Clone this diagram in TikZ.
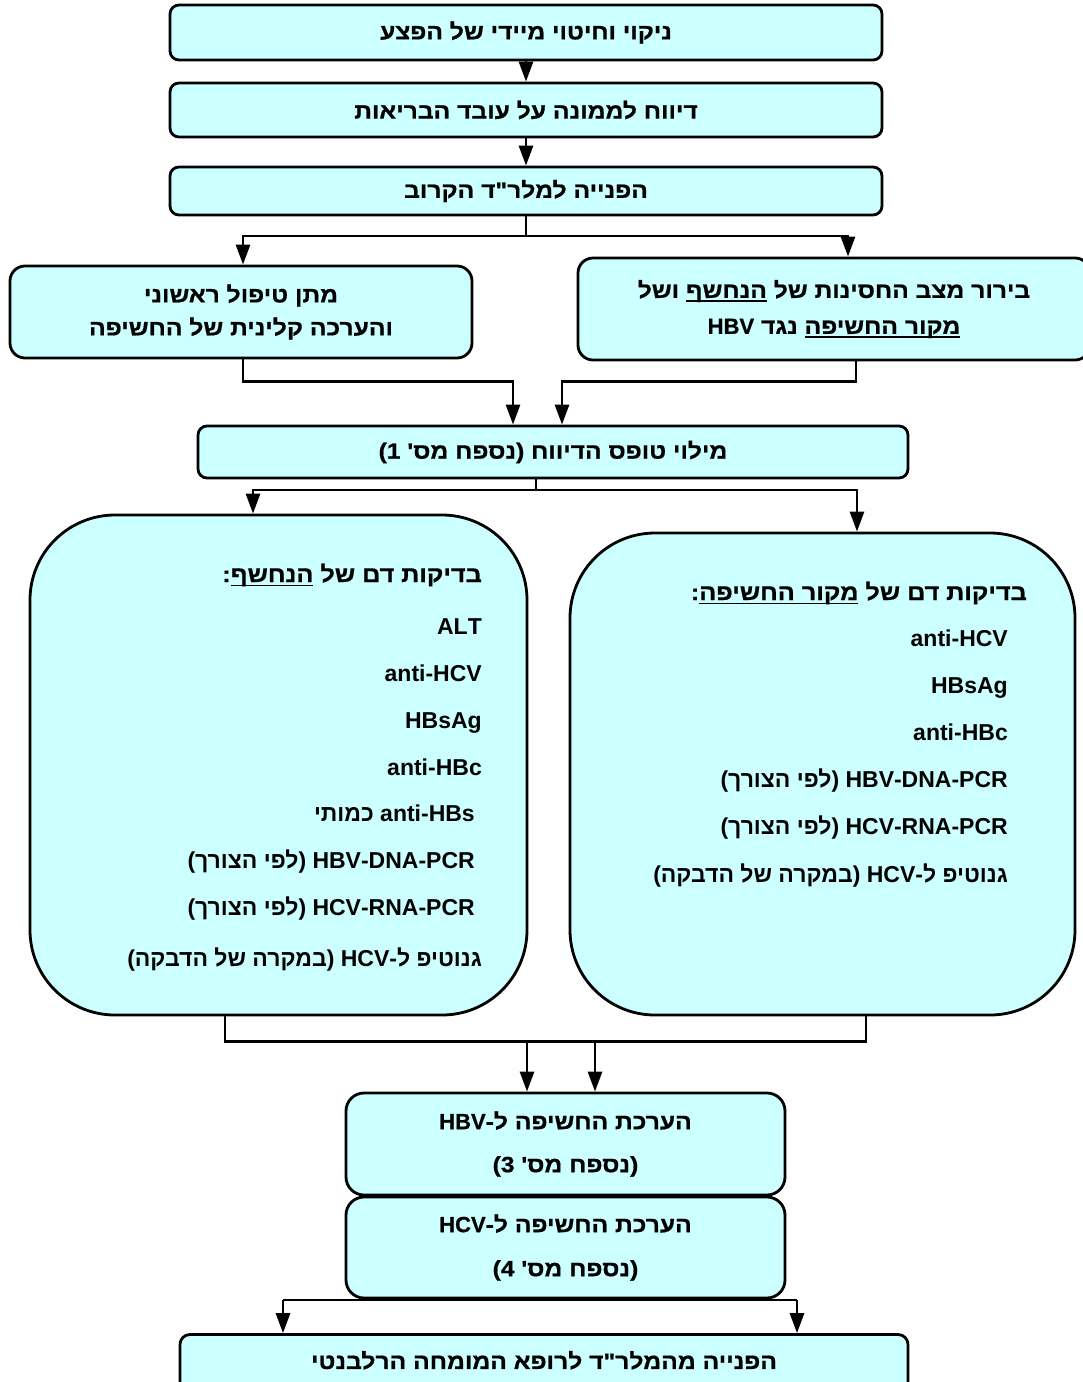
\documentclass[tikz,border=0pt]{standalone}
\usepackage{fontspec}
\usetikzlibrary{arrows.meta}
\TeXXeTstate=1
\newfontfamily\heb[Script=Hebrew]{Liberation Sans}
\newfontfamily\hebw[Script=Hebrew,FakeStretch=1.12,FakeBold=0.8]{Liberation Sans}
\newfontfamily\latb[FakeBold=0.8]{Liberation Sans}
\definecolor{boxfill}{RGB}{204,255,255}
\newcommand\myul[1]{\setbox0=\hbox{#1}\dp0=0pt\vtop{\copy0\kern2.5pt\hrule height1.6pt}}
\newcommand\lat[1]{\beginL{\latb\bfseries\fontsize{22}{22}\selectfont #1}\endL}
\begin{document}
\begin{tikzpicture}[x=1pt,y=-1pt,
  flowbox/.style={draw=black, line width=2.8pt, fill=boxfill, rounded corners=#1, inner sep=0pt, align=center,
    font=\hebw\bfseries\fontsize{22}{24}\selectfont},
  flowbox/.default=9pt,
  twoline/.style={font=\hebw\bfseries\fontsize{22}{#1}\selectfont},
  item/.style={anchor=base east, inner sep=0pt, font=\heb\bfseries\fontsize{23}{28}\selectfont},
  title/.style={item, font=\hebw\bfseries\fontsize{22.5}{28}\selectfont},
  ln/.style={line width=2.8pt},
  arr/.style={line width=2.8pt, -{Triangle[length=20pt,width=14pt]}}]
\useasboundingbox (0,0) rectangle (1083,1382);
\clip (0,0) rectangle (1083,1382);
\fill[white] (0,0) rectangle (1083,1382);

% boxes
\node[flowbox, minimum width=712pt, minimum height=55pt] (b1) at (526,32.5) {\beginR ניקוי וחיטוי מיידי של הפצע\endR};
\node[flowbox, minimum width=712pt, minimum height=54pt] (b2) at (526,110) {\beginR דיווח לממונה על עובד הבריאות\endR};
\node[flowbox, minimum width=712pt, minimum height=48pt] (b3) at (526,191) {\beginR הפנייה למלר"ד הקרוב\endR};
\node[flowbox=15pt, twoline=33pt, minimum width=462pt, minimum height=92pt] (A) at (241,312)
  {\beginR מתן טיפול ראשוני\endR\\\beginR והערכה קלינית של החשיפה\endR};
\node[flowbox=15pt, twoline=36pt, minimum width=512pt, minimum height=102pt] (B) at (834,309)
  {\beginR בירור מצב החסינות של \myul{הנחשף} ושל\endR\\\beginR\myul{\beginR מקור החשיפה\endR} נגד \lat{HBV}\endR};
\node[flowbox, minimum width=710pt, minimum height=52pt] (C) at (553,452) {\beginR מילוי טופס הדיווח (נספח מס' 1)\endR};
\node[flowbox=85pt, minimum width=497pt, minimum height=500pt] (D) at (278.5,765) {};
\node[flowbox=85pt, minimum width=505pt, minimum height=482pt] (E) at (822.5,774) {};
\node[flowbox=18pt, twoline=43pt, minimum width=439pt, minimum height=102pt] (F) at (565.5,1144)
  {\beginR הערכת החשיפה ל-\lat{HBV}\endR\\\beginR(נספח מס' 3)\endR};
\node[flowbox=18pt, twoline=44pt, minimum width=439pt, minimum height=101pt] (G) at (565.5,1247.5)
  {\beginR הערכת החשיפה ל-\lat{HCV}\endR\\\beginR(נספח מס' 4)\endR};
\node[flowbox=10pt, minimum width=728pt, minimum height=65pt, text depth=14pt] (H) at (544,1367)
  {\beginR הפנייה מהמלר"ד לרופא המומחה הרלבנטי\endR};

% text of D
\node[title] (d0) at (482,582) {\beginR בדיקות דם של \myul{הנחשף}:\endR};
\node[item] (d1) at (482,634) {ALT};
\node[item] (d2) at (482,681.5) {anti-HCV};
\node[item] (d3) at (482,728) {HBsAg};
\node[item] (d4) at (482,775) {anti-HBc};
\node[item] (d5) at (475,821.5) {\beginR\beginL anti-HBs\endL{} כמותי\endR};
\node[item] (d6) at (475,868) {\beginR\beginL HBV-DNA-PCR\endL{} (לפי הצורך)\endR};
\node[item] (d7) at (475,915) {\beginR\beginL HCV-RNA-PCR\endL{} (לפי הצורך)\endR};
\node[item] (d8) at (482,966.5) {\beginR גנוטיפ ל-\beginL HCV\endL{} (במקרה של הדבקה)\endR};

% text of E
\node[title] (e0) at (1027,600) {\beginR בדיקות דם של \myul{\beginR מקור החשיפה\endR}:\endR};
\node[item] (e1) at (1008,646.5) {anti-HCV};
\node[item] (e2) at (1008,693.5) {HBsAg};
\node[item] (e3) at (1008,740) {anti-HBc};
\node[item] (e4) at (1008,787) {\beginR\beginL HBV-DNA-PCR\endL{} (לפי הצורך)\endR};
\node[item] (e5) at (1008,834) {\beginR\beginL HCV-RNA-PCR\endL{} (לפי הצורך)\endR};
\node[item] (e6) at (1008,882) {\beginR גנוטיפ ל-\beginL HCV\endL{} (במקרה של הדבקה)\endR};

% connectors
\draw[arr] (b1) -- (b2);
\draw[arr] (b2) -- (b3);
\coordinate (s1) at (526,236);
\draw[ln] (b3.south) -- (s1);
\draw[arr] (s1) -| ([xshift=2pt]A.north);
\draw[arr] (s1) -| ([xshift=14pt]B.north);
\draw[arr] ([xshift=2pt]A.south) -- ++(0,22) -| ([xshift=-40pt]C.north);
\draw[arr] ([xshift=22pt]B.south) -- ++(0,20) -| ([xshift=9pt]C.north);
\coordinate (s2) at (536,490);
\draw[ln] ([xshift=-17pt]C.south) -- (s2);
\draw[arr] (s2) -| ([xshift=-25.5pt]D.north);
\draw[arr] (s2) -| ([xshift=34.5pt]E.north);
\draw[ln] ([xshift=-53.5pt]D.south) -- ++(0,25) -| ([xshift=43.5pt]E.south);
\coordinate (j1) at (527,1040);
\coordinate (j2) at (595,1040);
\draw[arr] (j1) -- (j1 |- F.north);
\draw[arr] (j2) -- (j2 |- F.north);
\coordinate (k1) at (283,1300);
\coordinate (k2) at (797,1300);
\draw[ln] (k1) -- (k2);
\draw[arr] (k1) -- (k1 |- H.north);
\draw[arr] (k2) -- (k2 |- H.north);
\end{tikzpicture}
\end{document}
